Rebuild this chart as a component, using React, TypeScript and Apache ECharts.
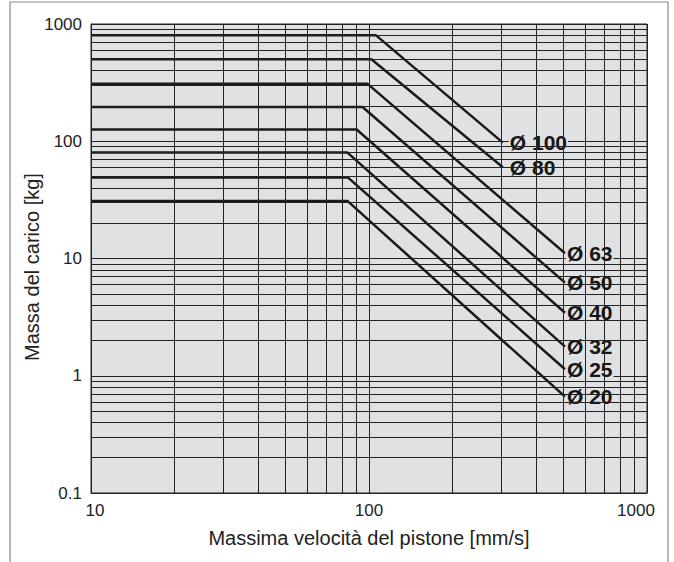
import React, { useEffect, useRef } from "react";
import * as echarts from "echarts";

const FONT = '"Liberation Sans", Arial, Helvetica, sans-serif';

// Axis ticks
const xTickLabels = [10, 100, 1000];
const yTickLabels = [0.1, 1, 10, 100, 1000];
// Minor grid lines (log paper)
const xMinorGrid = [20, 30, 40, 50, 60, 70, 80, 90, 200, 300, 400, 500, 600, 700, 800, 900];
const yMinorGrid = [
  0.2, 0.3, 0.4, 0.5, 0.6, 0.7, 0.8, 0.9,
  2, 3, 4, 5, 6, 7, 8, 9,
  20, 30, 40, 50, 60, 70, 80, 90,
  200, 300, 400, 500, 600, 700, 800, 900,
];

// Series (bore diameters)
const boreLabels = ["Ø 100", "Ø 80", "Ø 63", "Ø 50", "Ø 40", "Ø 32", "Ø 25", "Ø 20"];
const startSpeed = [10, 10, 10, 10, 10, 10, 10, 10];
const flatMass = [800, 500, 310, 196, 126, 80, 49, 31];
const kneeSpeed = [106, 102, 98.6, 94.8, 90.3, 83.7, 84.1, 83.6];
const endSpeed = [303, 303, 507, 507, 507, 507, 507, 507];
const endMass = [97.3, 60, 11.1, 6.22, 3.45, 1.77, 1.135, 0.663];

const PLOT_BG = "#e0e1e3";
const GRID_COLOR = "#222222";
const LINE_COLOR = "#1a1a1a";

export default function App() {
  const ref = useRef<HTMLDivElement>(null);

  useEffect(() => {
    if (!ref.current) return;
    const chart = echarts.init(ref.current, undefined, { renderer: "svg" });

    const curveSeries = boreLabels.map((name, i) => ({
      type: "line",
      name,
      z: 3,
      symbol: "none",
      showSymbol: false,
      silent: true,
      data: [
        [startSpeed[i], flatMass[i]],
        [kneeSpeed[i], flatMass[i]],
        [endSpeed[i], endMass[i]],
      ],
      lineStyle: { color: LINE_COLOR, width: 2.5 },
      endLabel: {
        show: true,
        formatter: name,
        fontFamily: FONT,
        fontSize: 21,
        fontWeight: "bold",
        color: "#151515",
        backgroundColor: PLOT_BG,
        padding: [1, 1, 0, 1],
        distance: i < 2 ? 6 : 1,
      },
    }));

    const gridSeries = {
      type: "line",
      name: "grid",
      z: 1,
      symbol: "none",
      showSymbol: false,
      silent: true,
      data: [[10, 1]],
      lineStyle: { opacity: 0 },
      markLine: {
        silent: true,
        symbol: ["none", "none"],
        label: { show: false },
        animation: false,
        lineStyle: { color: GRID_COLOR, width: 1, type: "solid", opacity: 1 },
        emphasis: { disabled: true },
        data: [
          ...xMinorGrid.map((v) => ({ xAxis: v })),
          ...yMinorGrid.map((v) => ({ yAxis: v })),
        ],
      },
    };

    chart.setOption({
      animation: false,
      grid: {
        left: 91,
        right: 27,
        top: 24,
        bottom: 69,
        show: true,
        backgroundColor: PLOT_BG,
        borderColor: "#222",
        borderWidth: 1,
      },
      graphic: [
        {
          type: "rect",
          shape: { x: 10, y: 2, width: 658, height: 620 },
          style: { fill: "none", stroke: "#8a8a8a", lineWidth: 1.2 },
          silent: true,
          z: 0,
        },
      ],
      xAxis: {
        type: "log",
        logBase: 10,
        min: xTickLabels[0],
        max: xTickLabels[xTickLabels.length - 1],
        name: "Massima velocità del pistone [mm/s]",
        nameLocation: "middle",
        nameGap: 35,
        nameTextStyle: { fontFamily: FONT, fontSize: 20, color: "#222" },
        axisLine: { show: true, lineStyle: { color: "#222", width: 1 } },
        axisTick: { show: false },
        splitLine: { show: true, lineStyle: { color: GRID_COLOR, width: 1 } },
        axisLabel: {
          fontFamily: FONT,
          fontSize: 17,
          color: "#222",
          margin: 9,
          formatter: (v: number) => {
            if (Math.abs(v - xTickLabels[0]) < 1e-6) return "{a|" + v + "}";
            if (Math.abs(v - xTickLabels[2]) < 1e-6) return "{c|" + v + "}";
            return "{b|" + v + "}";
          },
          rich: {
            a: { fontFamily: FONT, fontSize: 17, color: "#222", padding: [0, 0, 0, 8] },
            b: { fontFamily: FONT, fontSize: 17, color: "#222" },
            c: { fontFamily: FONT, fontSize: 17, color: "#222", padding: [0, 22, 0, 0] },
          },
        },
      },
      yAxis: {
        type: "log",
        logBase: 10,
        min: yTickLabels[0],
        max: yTickLabels[yTickLabels.length - 1],
        name: "Massa del carico [kg]",
        nameLocation: "middle",
        nameGap: 49,
        nameRotate: 90,
        nameMoveOverlap: false,
        nameTextStyle: { fontFamily: FONT, fontSize: 20, color: "#222", padding: [0, 17, 0, 0] },
        axisLine: { show: true, lineStyle: { color: "#222", width: 1 } },
        axisTick: { show: false },
        splitLine: { show: true, lineStyle: { color: GRID_COLOR, width: 1 } },
        axisLabel: {
          fontFamily: FONT,
          fontSize: 17,
          color: "#222",
          margin: 9,
          formatter: (v: number) => String(v),
        },
      },
      series: [gridSeries, ...curveSeries],
    });

    return () => chart.dispose();
  }, []);

  return (
    <div
      ref={ref}
      style={{ position: "absolute", left: 0, top: 0, width: 674, height: 562, background: "#fff" }}
    />
  );
}
